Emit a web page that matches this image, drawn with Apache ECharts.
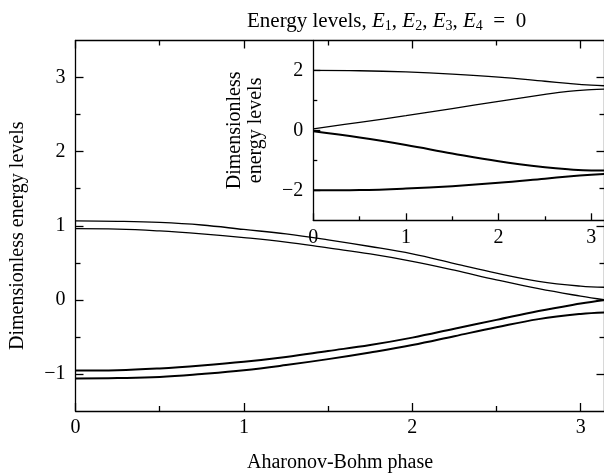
<!DOCTYPE html>
<html><head><meta charset="utf-8">
<script src="https://cdn.jsdelivr.net/npm/echarts@6/dist/echarts.min.js"></script>
<style>html,body{margin:0;padding:0;background:#fff}#c{width:604px;height:475px}</style>
</head><body><div id="c"></div>
<script>
// ---------- data ----------
const phaseMax = 3.1416;
const mainPhase = [0, 0.25, 0.5, 0.75, 1.0, 1.25, 1.5, 1.75, 2.0, 2.25, 2.5, 2.75, 3.0, 3.1416];
const levelA = [1.065, 1.06, 1.045, 1.01, 0.95, 0.89, 0.81, 0.72, 0.62, 0.49, 0.36, 0.25, 0.185, 0.17];
const levelB = [0.96, 0.955, 0.93, 0.89, 0.84, 0.78, 0.70, 0.62, 0.52, 0.4, 0.27, 0.15, 0.05, 0];
const levelC = [-0.955, -0.95, -0.925, -0.885, -0.835, -0.77, -0.69, -0.61, -0.51, -0.39, -0.27, -0.15, -0.05, 0];
const levelD = [-1.06, -1.055, -1.04, -1.0, -0.95, -0.88, -0.8, -0.71, -0.61, -0.49, -0.37, -0.26, -0.19, -0.17];

const insetPhase = [0, 0.5, 1.0, 1.5, 2.0, 2.5, 2.75, 3.0, 3.1416];
const inset1 = [2.0, 1.99, 1.95, 1.88, 1.78, 1.64, 1.57, 1.51, 1.49];
const inset2 = [0.05, 0.27, 0.49, 0.73, 0.97, 1.2, 1.3, 1.36, 1.38];
const inset3 = [-0.03, -0.24, -0.49, -0.77, -1.03, -1.23, -1.3, -1.34, -1.34];
const inset4 = [-2.0, -1.99, -1.94, -1.86, -1.75, -1.61, -1.54, -1.48, -1.45];

const mainXMajor = [0, 1, 2, 3];
const mainXMinor = [0.5, 1.5, 2.5];
const mainYMajor = [-1, 0, 1, 2, 3];
const mainYMinor = [-0.5, 0.5, 1.5, 2.5];
const insetXMajor = [0, 1, 2, 3];
const insetXMinor = [0.5, 1.5, 2.5];
const insetYMajor = [-2, 0, 2];
const insetYMinor = [-1, 1];

// ---------- styling ----------
const FONT = 'Liberation Serif';
const INK = '#000';
const fmt = v => v < 0 ? '\u2212' + Math.abs(v) : String(v);
const txt = {fontFamily: FONT, fontSize: 20, color: INK};

function axis(o) {
  const a = {
    type: 'value', gridIndex: o.grid, position: o.pos, min: o.min, max: o.max,
    axisLine: {show: !!o.line, onZero: false, lineStyle: {color: INK, width: 1.3}},
    axisTick: {show: true, inside: true, length: o.len, customValues: o.ticks, lineStyle: {color: INK, width: 1.3}},
    axisLabel: o.labels ? Object.assign({customValues: o.ticks, margin: o.margin, formatter: fmt}, txt) : {show: false},
    splitLine: {show: false}
  };
  if (o.name) {
    a.name = o.name; a.nameLocation = 'middle'; a.nameGap = o.nameGap;
    if (o.rot) a.nameRotate = o.rot;
    a.nameTextStyle = Object.assign({}, txt, o.nameStyle || {});
  }
  return a;
}

const pairs = (xs, ys) => xs.map((x, i) => [x, ys[i]]);
function line(xs, ys, w, xi, yi) {
  return {type: 'line', xAxisIndex: xi, yAxisIndex: yi, data: pairs(xs, ys), smooth: 0.4,
    showSymbol: false, silent: true, lineStyle: {color: INK, width: w}};
}

const chart = echarts.init(document.getElementById('c'), null, {renderer: 'canvas'});
chart.setOption({
  animation: false,
  backgroundColor: '#fff',
  title: {
    text: 'Energy levels, {i|E}{s|1}, {i|E}{s|2}, {i|E}{s|3}, {i|E}{s|4}\u2002=\u20020',
    left: 242, top: 4,
    textStyle: {fontFamily: FONT, fontSize: 21, fontWeight: 'normal', color: INK, lineHeight: 24,
      rich: {
        i: {fontFamily: FONT, fontSize: 21, fontStyle: 'italic', color: INK, lineHeight: 24},
        s: {fontFamily: FONT, fontSize: 14, color: INK, lineHeight: 11, verticalAlign: 'bottom'}
      }}
  },
  grid: [
    {left: 75.5, top: 40.5, width: 529, height: 370.5, outerBoundsMode: 'none', containLabel: false},
    {left: 313.3, top: 40.5, width: 291.1, height: 179.8, outerBoundsMode: 'none', containLabel: false}
  ],
  xAxis: [
    axis({grid: 0, pos: 'bottom', min: 0, max: phaseMax, line: true, len: 8, ticks: mainXMajor, labels: true, margin: 7,
      name: 'Aharonov-Bohm phase', nameGap: 42}),
    axis({grid: 0, pos: 'bottom', min: 0, max: phaseMax, len: 5, ticks: mainXMinor}),
    axis({grid: 0, pos: 'top', min: 0, max: phaseMax, line: true, len: 8, ticks: mainXMajor}),
    axis({grid: 0, pos: 'top', min: 0, max: phaseMax, len: 5, ticks: mainXMinor}),
    axis({grid: 1, pos: 'bottom', min: 0, max: phaseMax, line: true, len: 7, ticks: insetXMajor, labels: true, margin: 7}),
    axis({grid: 1, pos: 'bottom', min: 0, max: phaseMax, len: 4, ticks: insetXMinor})
  ],
  yAxis: [
    axis({grid: 0, pos: 'left', min: -1.5, max: 3.5, line: true, len: 8, ticks: mainYMajor, labels: true, margin: 10,
      name: 'Dimensionless energy levels', nameGap: 48, rot: 90, nameStyle: {padding: [0, 20, 0, 0]}}),
    axis({grid: 0, pos: 'left', min: -1.5, max: 3.5, len: 5, ticks: mainYMinor}),
    axis({grid: 0, pos: 'right', min: -1.5, max: 3.5, line: true, len: 8, ticks: mainYMajor}),
    axis({grid: 0, pos: 'right', min: -1.5, max: 3.5, len: 5, ticks: mainYMinor}),
    axis({grid: 1, pos: 'left', min: -3, max: 3, line: true, len: 7, ticks: insetYMajor, labels: true, margin: 10,
      name: 'Dimensionless\nenergy levels', nameGap: 47, rot: 90, nameStyle: {lineHeight: 21}}),
    axis({grid: 1, pos: 'left', min: -3, max: 3, len: 4, ticks: insetYMinor})
  ],
  series: [
    line(mainPhase, levelA, 1.3, 0, 0),
    line(mainPhase, levelB, 1.3, 0, 0),
    line(mainPhase, levelC, 2, 0, 0),
    line(mainPhase, levelD, 2, 0, 0),
    line(insetPhase, inset1, 1.3, 4, 4),
    line(insetPhase, inset2, 1.3, 4, 4),
    line(insetPhase, inset3, 2, 4, 4),
    line(insetPhase, inset4, 2, 4, 4)
  ]
});
</script></body></html>
